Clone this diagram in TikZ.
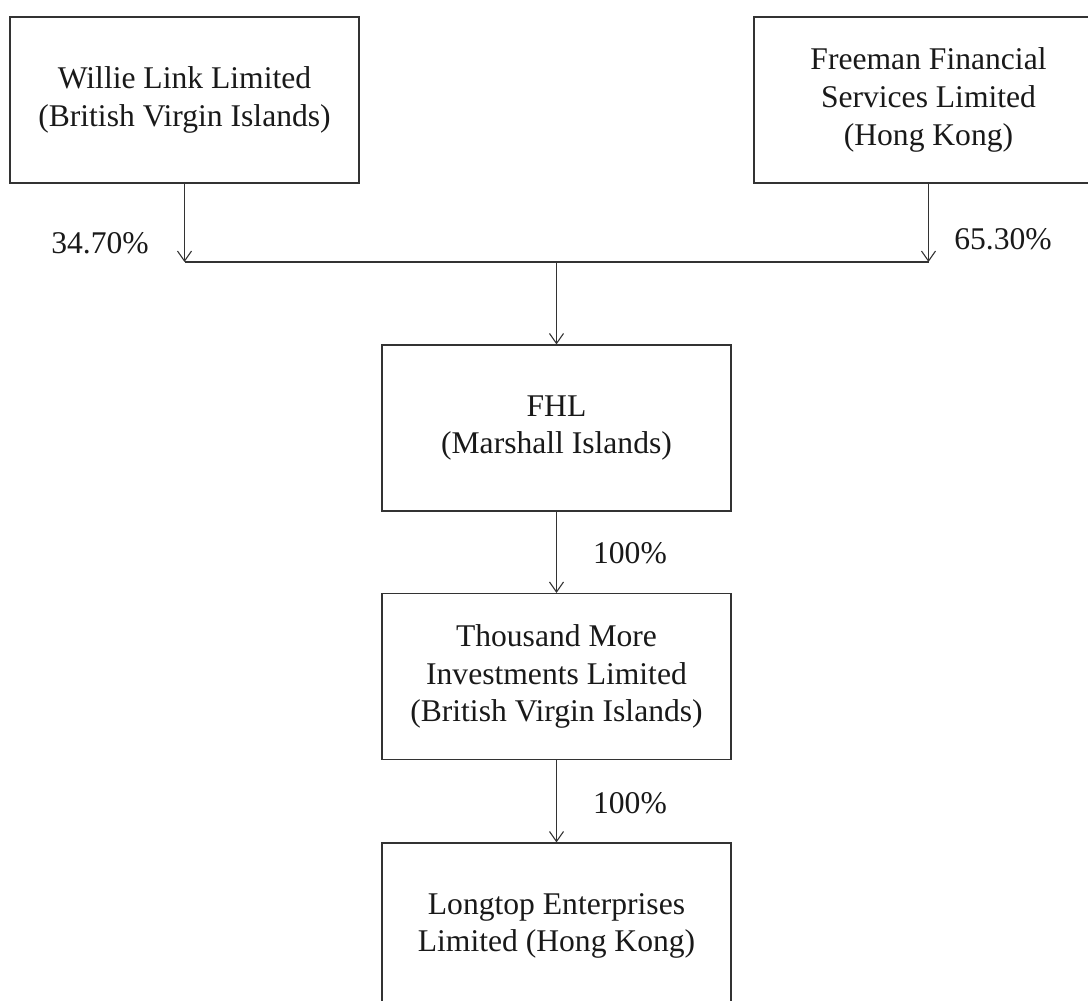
\documentclass[tikz,border=0pt]{standalone}
\usepackage{fontspec}
\setmainfont{Liberation Serif}
\usetikzlibrary{arrows.meta}
\tikzset{
	company/.style={draw=black!80, line width=0.55pt, minimum width=174.5pt, minimum height=83pt, align=center, inner sep=0pt, text=black!90, font=\fontsize{15.8}{18.8}\selectfont},
	share/.style={text=black!90, font=\fontsize{15.8}{18.8}\selectfont},
	own/.style={draw=black!80, line width=0.55pt, -{Straight Barb[length=5pt,width=7pt]}}
}

\begin{document}
\begin{tikzpicture}[x=0.5pt, y=-0.5pt]
			%%%%% START %%%%%
			
			\useasboundingbox (0, 0) rectangle (1088, 1001);
			
			\node[company] (willie) at (184.5, 100) {Willie Link Limited\\(British Virgin Islands)};
			\node[company] (freeman) at (928.5, 100) {Freeman Financial\\Services Limited\\(Hong Kong)};
			
			\coordinate (join) at (556.5, 262);
			\draw[own] (willie) -- (willie |- join);
			\draw[own] (freeman) -- (freeman |- join);
			\draw[draw=black!80, line width=0.55pt] (willie |- join) -- (freeman |- join);
			
			\node[share] (wshare) at (100, 243) {34.70\%};
			\node[share] (fshare) at (1003, 239) {65.30\%};
			
			\node[company] (fhl) at (556.5, 428) {FHL\\(Marshall Islands)};
			\draw[own] (join) -- (fhl);
			
			\node[company] (thousand) at (556.5, 676.5) {Thousand More\\Investments Limited\\(British Virgin Islands)};
			\draw[own] (fhl) -- (thousand);
			\node[share] (tshare) at (630, 553) {100\%};
			
			\node[company] (longtop) at (556.5, 926) {Longtop Enterprises\\Limited (Hong Kong)};
			\draw[own] (thousand) -- (longtop);
			\node[share] (lshare) at (630, 803) {100\%};
			
			%%%%% END %%%%%
		\end{tikzpicture}
\end{document}
